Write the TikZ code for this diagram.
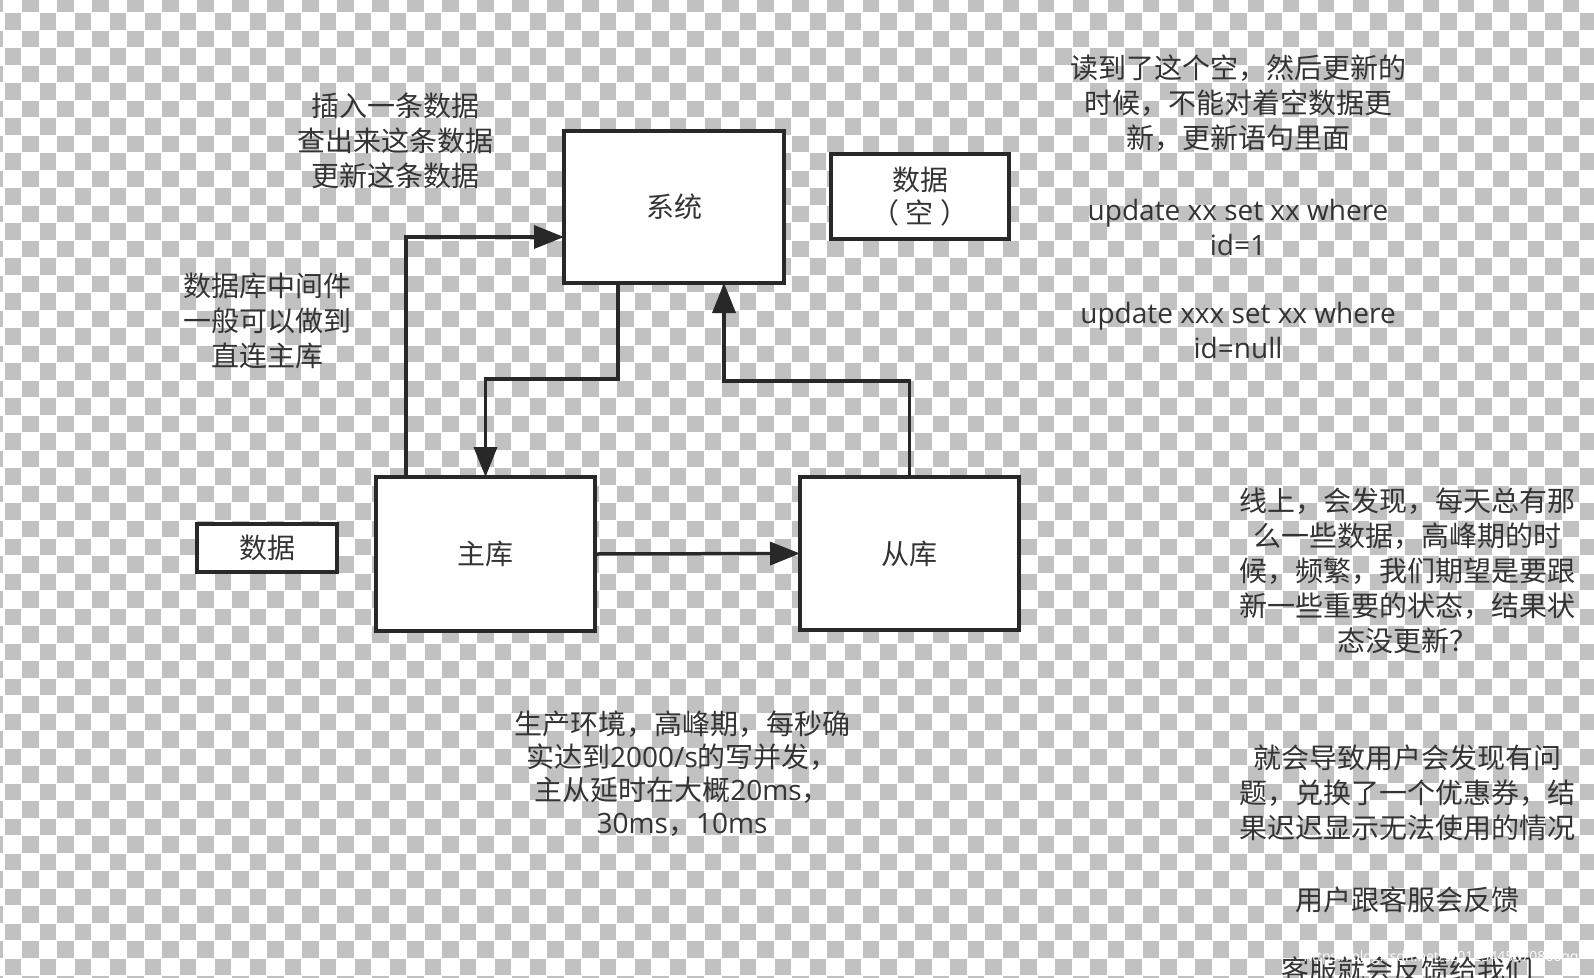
\documentclass[tikz,border=0pt]{standalone}
\usepackage{fontspec}
\setmainfont{Noto Sans CJK SC}
\newfontfamily\lat{Open Sans}
\usetikzlibrary{arrows.meta}
\definecolor{ink}{RGB}{40,40,40}
\definecolor{txt}{RGB}{51,51,51}
\definecolor{chk}{RGB}{193,193,193}
\tikzset{
  box/.style={draw=ink, line width=3.5pt, fill=white, inner sep=0pt, outer sep=0pt, text=txt,
    font=\fontsize{28}{33}\selectfont, align=center},
  arr/.style={draw=ink, line width=3.5pt, -{Triangle[length=30pt,width=23pt]}},
  note/.style={text=txt, align=center, inner sep=0pt, font=\fontsize{28}{35}\selectfont},
}
\begin{document}
\begin{tikzpicture}[x=1pt,y=-1pt]
\useasboundingbox (0,0) rectangle (1594,977);
\clip (0,0) rectangle (1594,977);
\fill[white] (0,0) rectangle (1594,977);
\foreach \j in {-1,...,56}{
  \pgfmathtruncatemacro{\off}{mod(\j+2,2)}
  \foreach \i in {-2,0,...,92}{
    \fill[chk] ({4+(\i+\off)*17.51+0.5},{12.7+\j*17.51+0.5}) rectangle ++(16.5,16.5);
  }
}
% boxes
\node[box, minimum width=220pt, minimum height=152pt] (sys) at (674,207) {系统};
\node[box, minimum width=178pt, minimum height=85pt] (empty) at (920,196.5) {数据\\（ 空 ）};
\node[box, minimum width=219pt, minimum height=154pt] (master) at (485.5,554) {主库};
\node[box, minimum width=219pt, minimum height=153pt] (slave) at (909.5,553.5) {从库};
\node[box, minimum width=140pt, minimum height=48pt] (data) at (267,548) {数据};
% connectors
\coordinate (k1) at (406,237);
\coordinate (k2) at (618,379);
\coordinate (k3) at (485.5,379);
\coordinate (k4) at (909.5,381);
\coordinate (k5) at (724,381);
\draw[arr] (master.north -| k1) |- (sys.west |- k1);
\draw[arr] (sys.south -| k2) -- (k2) -- (k3) -- (master.north -| k3);
\draw[arr] (slave.north -| k4) -- (k4) -- (k5) -- (sys.south -| k5);
\draw[arr] (master.east) -- (slave.west);
% notes
\node[note] (t1) at (395,141) {插入一条数据\\查出来这条数据\\更新这条数据};
\node[note] (t2) at (267,321) {数据库中间件\\一般可以做到\\直连主库};
\node[note] (t3a) at (1238,103) {读到了这个空，然后更新的\\时候，不能对着空数据更\\新，更新语句里面};
\node[note, font=\fontsize{28}{35}\lat] (t3b) at (1238,227) {update xx set xx where\\id=1};
\node[note, font=\fontsize{28}{35}\lat] (t3c) at (1238,330) {update xxx set xx where\\id=null};
\node[note, font=\fontsize{28}{33}\selectfont] (t4) at (682,774) {生产环境，高峰期，每秒确\\实达到{\lat 2000/s}的写并发，\\主从延时在大概{\lat 20ms}，\\{\lat 30ms}，{\lat 10ms}};
\node[note] (t5) at (1407,571) {线上，会发现，每天总有那\\么一些数据，高峰期的时\\候，频繁，我们期望是要跟\\新一些重要的状态，结果状\\态没更新？};
\node[note] (t6) at (1407,793) {就会导致用户会发现有问\\题，兑换了一个优惠券，结\\果迟迟显示无法使用的情况};
\node[note] (t7) at (1407,900) {用户跟客服会反馈};
\node[note] (t8) at (1407,970) {客服就会反馈给我们};
\node[text=white, inner sep=0pt, font=\fontsize{14}{16}\lat] (wm) at (1441,958) {https://blog.csdn.net/sz0125445570866qq};
\end{tikzpicture}
\end{document}
